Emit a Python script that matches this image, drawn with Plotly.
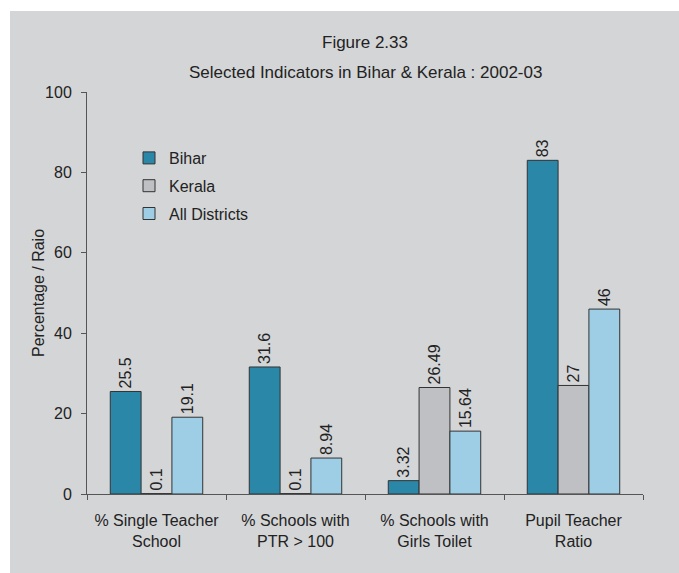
import plotly.graph_objects as go

# Indicator categories (two-line tick labels)
categories = [
    "% Single Teacher<br>School",
    "% Schools with<br>PTR > 100",
    "% Schools with<br>Girls Toilet",
    "Pupil Teacher<br>Ratio",
]
bihar = [25.5, 31.6, 3.32, 83]
kerala = [0.1, 0.1, 26.49, 27]
all_districts = [19.1, 8.94, 15.64, 46]
value_text = {
    "Bihar": ["25.5", "31.6", "3.32", "83"],
    "Kerala": ["0.1", "0.1", "26.49", "27"],
    "All Districts": ["19.1", "8.94", "15.64", "46"],
}
y_ticks = [0, 20, 40, 60, 80, 100]

FONT = "Liberation Sans, Arial, sans-serif"
PANEL = "#d4d5d7"
INK = "#222222"
FS = 16

series = [
    ("Bihar", bihar, "#2a87a8"),
    ("Kerala", kerala, "#bfc0c4"),
    ("All Districts", all_districts, "#9ecde6"),
]

fig = go.Figure()
for i, (name, vals, color) in enumerate(series):
    fig.add_trace(go.Bar(
        name=name,
        x=categories,
        y=vals,
        marker=dict(color=color, line=dict(color="#333333", width=1)),
        text=value_text[name],
        textposition="outside",
        textangle=-90,
        constraintext="none",
        textfont=dict(family=FONT, size=FS, color=INK),
        cliponaxis=False,
        legendgroup=f"g{i}",
    ))

# Figure geometry (pixels)
W, H = 679, 573
L, R, T, B = 87, 36, 92, 79
pw, ph = W - L - R, H - T - B

def px_x(px):
    return (px - L) / pw

def px_y(py):
    return 1 - (py - T) / ph

fig.update_layout(
    width=W,
    height=H,
    margin=dict(l=L, r=R, t=T, b=B),
    paper_bgcolor="white",
    plot_bgcolor=PANEL,
    barmode="group",
    bargap=0.335,
    bargroupgap=0,
    font=dict(family=FONT, size=FS, color=INK),
    showlegend=True,
    legend=dict(
        x=px_x(129), y=px_y(141), xanchor="left", yanchor="top",
        bgcolor="rgba(0,0,0,0)",
        font=dict(family=FONT, size=FS, color=INK),
        tracegroupgap=4,
    ),
    xaxis=dict(
        showline=True, linecolor="#555555", linewidth=1,
        ticks="outside", ticklen=5, tickcolor="#555555",
        tickson="boundaries",
        ticklabelstandoff=12,
        tickfont=dict(family=FONT, size=FS, color=INK),
        showgrid=False,
    ),
    yaxis=dict(
        range=[0, 100],
        tickvals=y_ticks,
        showline=True, linecolor="#555555", linewidth=1,
        ticks="outside", ticklen=5, tickcolor="#555555",
        ticklabelstandoff=6,
        tickfont=dict(family=FONT, size=FS, color=INK),
        showgrid=False, zeroline=False,
    ),
    shapes=[
        dict(
            type="rect", xref="paper", yref="paper", layer="below",
            x0=px_x(10), x1=px_x(W + 5), y0=px_y(H + 5), y1=px_y(11),
            fillcolor=PANEL, line=dict(width=0),
        )
    ],
    annotations=[
        dict(text="Figure 2.33", xref="paper", yref="paper",
             x=0.5, y=px_y(42), xanchor="center", yanchor="middle",
             showarrow=False, font=dict(family=FONT, size=17, color=INK)),
        dict(text="Selected Indicators in Bihar & Kerala : 2002-03", xref="paper", yref="paper",
             x=0.5, y=px_y(72), xanchor="center", yanchor="middle",
             showarrow=False, font=dict(family=FONT, size=17, color=INK)),
        dict(text="Percentage / Raio", xref="paper", yref="paper",
             x=px_x(38), y=0.5, xanchor="center", yanchor="middle", textangle=-90,
             showarrow=False, font=dict(family=FONT, size=FS, color=INK)),
    ],
)

fig.write_html("out.html")
